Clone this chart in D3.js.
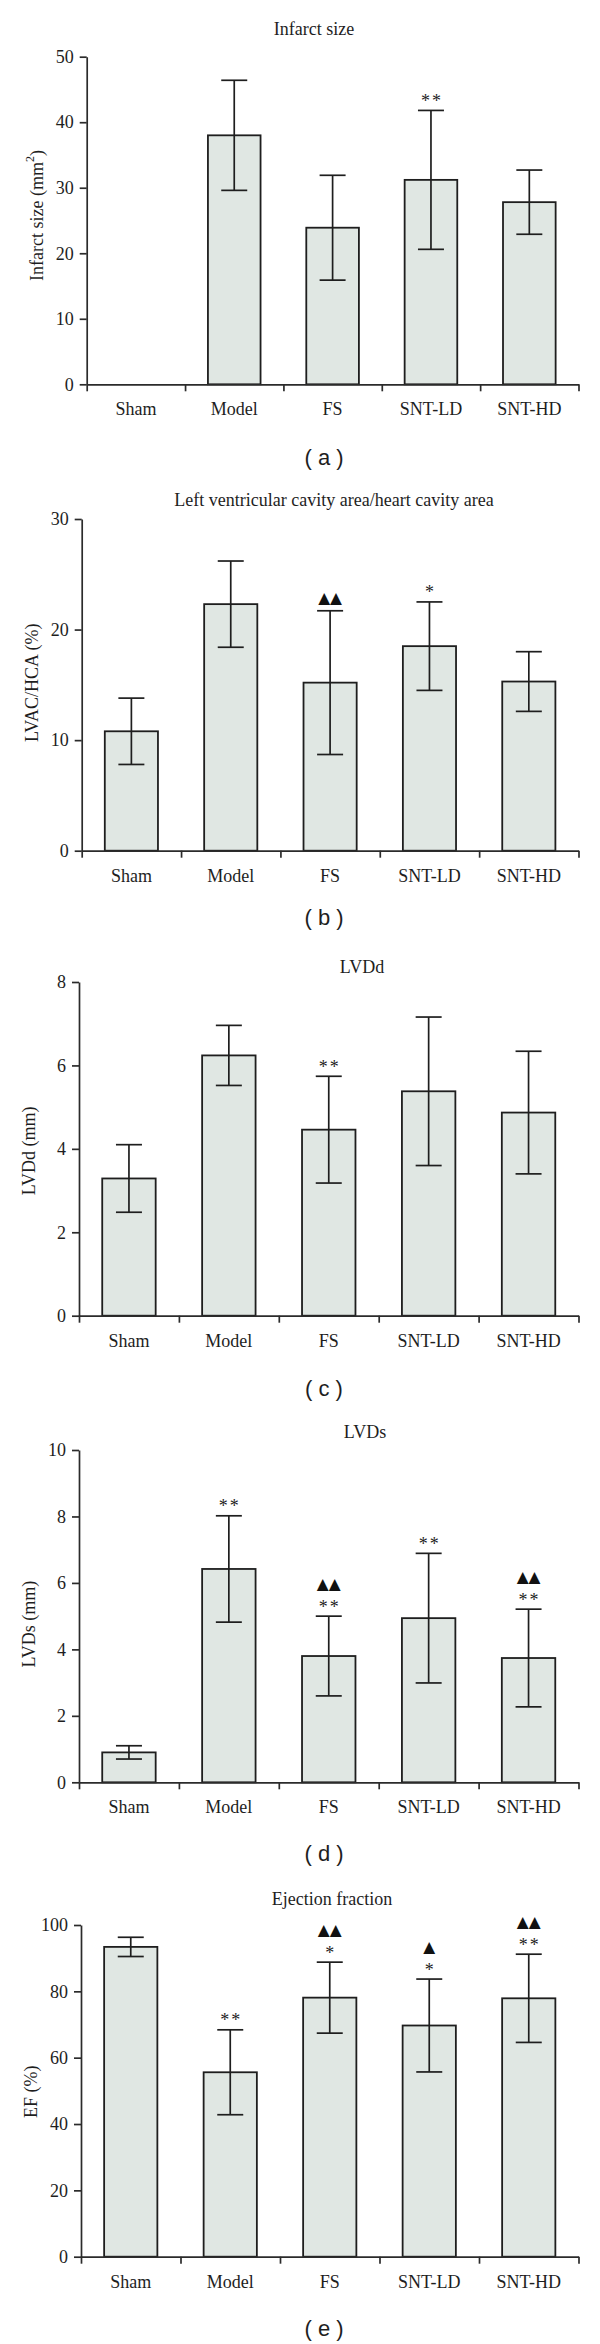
<!DOCTYPE html>
<html>
<head>
<meta charset="utf-8">
<script src="https://cdn.jsdelivr.net/npm/d3@7"></script>
<style>
  html, body { margin: 0; padding: 0; background: #fff; }
  svg { display: block; }
</style>
</head>
<body>
<script>
// ---------------- data ----------------
const categories = ["Sham", "Model", "FS", "SNT-LD", "SNT-HD"];

const panelTitles = ["Infarct size", "Left ventricular cavity area/heart cavity area", "LVDd", "LVDs", "Ejection fraction"];
const panelLetters = ["a", "b", "c", "d", "e"];
const yLabels = ["Infarct size (mm|2|)", "LVAC/HCA (%)", "LVDd (mm)", "LVDs (mm)", "EF (%)"];

const infarctTicks = [0, 10, 20, 30, 40, 50];
const lvacTicks = [0, 10, 20, 30];
const lvddTicks = [0, 2, 4, 6, 8];
const lvdsTicks = [0, 2, 4, 6, 8, 10];
const efTicks = [0, 20, 40, 60, 80, 100];

const infarctMean = [null, 38.0, 23.9, 31.2, 27.8];
const infarctSD   = [null, 8.4, 8.0, 10.6, 4.9];
const lvacMean = [10.8, 22.3, 15.2, 18.5, 15.3];
const lvacSD   = [3.0, 3.9, 6.5, 4.0, 2.7];
const lvddMean = [3.29, 6.24, 4.46, 5.38, 4.87];
const lvddSD   = [0.81, 0.72, 1.28, 1.78, 1.47];
const lvdsMean = [0.90, 6.42, 3.80, 4.94, 3.74];
const lvdsSD   = [0.20, 1.60, 1.20, 1.95, 1.47];
const efMean = [93.4, 55.6, 78.1, 69.7, 77.9];
const efSD   = [2.9, 12.8, 10.7, 14.0, 13.3];

const infarctStars = ["", "", "", "**", ""];
const infarctTris  = ["", "", "", "", ""];
const lvacStars = ["", "", "", "*", ""];
const lvacTris  = ["", "", "\u25B2\u25B2", "", ""];
const lvddStars = ["", "", "**", "", ""];
const lvddTris  = ["", "", "", "", ""];
const lvdsStars = ["", "**", "**", "**", "**"];
const lvdsTris  = ["", "", "\u25B2\u25B2", "", "\u25B2\u25B2"];
const efStars = ["", "**", "*", "*", "**"];
const efTris  = ["", "", "\u25B2\u25B2", "\u25B2", "\u25B2\u25B2"];

// ---------------- layout (positions only) ----------------
const RIGHT = 578.5;
const layout = [
  { left: 86.7, top: 56.7,  bottom: 384.3,  titleX: 314, titleY: 35,   letterY: 457,  labDy: -5 },
  { left: 81.7, top: 519,   bottom: 850.7,  titleX: 334, titleY: 506,  letterY: 917,  labDy: -2 },
  { left: 79,   top: 982,   bottom: 1315.7, titleX: 362, titleY: 973,  letterY: 1388, labDy: 2 },
  { left: 79,   top: 1450,  bottom: 1782.3, titleX: 365, titleY: 1438, letterY: 1853, labDy: 8 },
  { left: 81,   top: 1925,  bottom: 2256.7, titleX: 332, titleY: 1905, letterY: 2328, labDy: 1 }
];

const panels = [
  { ticks: infarctTicks, mean: infarctMean, sd: infarctSD, stars: infarctStars, tris: infarctTris },
  { ticks: lvacTicks, mean: lvacMean, sd: lvacSD, stars: lvacStars, tris: lvacTris },
  { ticks: lvddTicks, mean: lvddMean, sd: lvddSD, stars: lvddStars, tris: lvddTris },
  { ticks: lvdsTicks, mean: lvdsMean, sd: lvdsSD, stars: lvdsStars, tris: lvdsTris },
  { ticks: efTicks, mean: efMean, sd: efSD, stars: efStars, tris: efTris }
];

// ---------------- styles ----------------
const SERIF = "'Liberation Serif', 'Times New Roman', serif";
const SANS = "'Liberation Sans', Arial, sans-serif";
const INK = "#1e1e1e";
const AXIS = "#2b2b2b";
const FILL = "#e0e7e3";

const svg = d3.select("body").append("svg")
  .attr("width", 600).attr("height", 2344)
  .attr("viewBox", "0 0 600 2344");

panels.forEach((p, pi) => {
  const L = layout[pi];
  const g = svg.append("g");

  const x = d3.scaleBand().domain(categories).range([L.left, RIGHT]).paddingInner(0).paddingOuter(0);
  const xb = d3.scaleLinear().domain([0, categories.length]).range([L.left, RIGHT]);
  const y = d3.scaleLinear().domain([0, d3.max(p.ticks)]).range([L.bottom, L.top]);

  const rows = categories.map((c, i) => ({
    c, m: p.mean[i], s: p.sd[i], star: p.stars[i], tri: p.tris[i]
  })).filter(d => d.m != null);

  const bw = x.bandwidth() * 0.535;
  const capW = 26;
  const cx = d => x(d.c) + x.bandwidth() / 2;

  // bars
  g.selectAll("rect.bar").data(rows).join("rect")
    .attr("class", "bar")
    .attr("x", d => cx(d) - bw / 2)
    .attr("y", d => y(d.m))
    .attr("width", bw)
    .attr("height", d => y(0) - y(d.m))
    .attr("fill", FILL)
    .attr("stroke", INK)
    .attr("stroke-width", 1.8);

  // error bars
  const eb = g.selectAll("g.err").data(rows).join("g").attr("class", "err")
    .attr("stroke", INK).attr("stroke-width", 1.7).attr("fill", "none");
  eb.append("line")
    .attr("x1", cx).attr("x2", cx)
    .attr("y1", d => y(d.m + d.s)).attr("y2", d => y(d.m - d.s));
  eb.append("line")
    .attr("x1", d => cx(d) - capW / 2).attr("x2", d => cx(d) + capW / 2)
    .attr("y1", d => y(d.m + d.s)).attr("y2", d => y(d.m + d.s));
  eb.append("line")
    .attr("x1", d => cx(d) - capW / 2).attr("x2", d => cx(d) + capW / 2)
    .attr("y1", d => y(d.m - d.s)).attr("y2", d => y(d.m - d.s));

  // annotations
  rows.forEach(d => {
    const top = y(d.m + d.s);
    let starC = top - 13;
    if (d.star) {
      g.append("text")
        .attr("x", cx(d) + 1)
        .attr("y", starC + 9.5)
        .attr("text-anchor", "middle")
        .attr("font-family", SERIF)
        .attr("font-size", 18)
        .attr("letter-spacing", "2px")
        .attr("fill", INK)
        .text(d.star);
    }
    if (d.tri) {
      const triC = d.star ? starC - 20 : top - 13;
      g.append("text")
        .attr("x", cx(d))
        .attr("y", triC + 5.5)
        .attr("text-anchor", "middle")
        .attr("font-family", "'DejaVu Sans', sans-serif")
        .attr("font-size", 15.5)
        .attr("fill", "#111")
        .text(d.tri);
    }
  });

  // y axis
  const ya = g.append("g")
    .attr("transform", `translate(${L.left},0)`)
    .call(d3.axisLeft(y).tickValues(p.ticks).tickSize(7).tickSizeOuter(0).tickPadding(6).tickFormat(d3.format("d")));
  ya.attr("font-family", SERIF).attr("font-size", 18);
  ya.selectAll("path, line").attr("stroke", AXIS).attr("stroke-width", 1.7);
  ya.selectAll("text").attr("fill", INK);

  // x axis boundary ticks
  const xa = g.append("g")
    .attr("transform", `translate(0,${L.bottom})`)
    .call(d3.axisBottom(xb).tickValues(d3.range(categories.length + 1)).tickSize(7).tickSizeOuter(0).tickFormat(""));
  xa.selectAll("path, line").attr("stroke", AXIS).attr("stroke-width", 1.7);

  // x category labels
  const xl = g.append("g")
    .attr("transform", `translate(0,${L.bottom})`)
    .call(d3.axisBottom(x).tickSize(0).tickPadding(18.2));
  xl.select(".domain").remove();
  xl.attr("font-family", SERIF).attr("font-size", 18);
  xl.selectAll("text").attr("fill", INK);

  // panel title
  g.append("text")
    .attr("x", L.titleX).attr("y", L.titleY)
    .attr("text-anchor", "middle")
    .attr("font-family", SERIF).attr("font-size", 18)
    .attr("fill", INK)
    .text(panelTitles[pi]);

  // y-axis label (with optional superscript marked by |...|)
  const labX = L.left - 50;
  const labY = (L.top + L.bottom) / 2 + L.labDy;
  const yl = g.append("text")
    .attr("transform", `translate(${labX},${labY}) rotate(-90)`)
    .attr("text-anchor", "middle")
    .attr("dominant-baseline", "central")
    .attr("font-family", SERIF).attr("font-size", 18)
    .attr("fill", INK);
  const parts = yLabels[pi].split("|");
  if (parts.length === 3) {
    yl.append("tspan").text(parts[0]);
    yl.append("tspan").attr("font-size", 12).attr("dy", -7).text(parts[1]);
    yl.append("tspan").attr("dy", 7).text(parts[2]);
  } else {
    yl.text(parts[0]);
  }

  // panel letter
  g.append("text")
    .attr("x", 324).attr("y", L.letterY)
    .attr("text-anchor", "middle")
    .attr("dominant-baseline", "central")
    .attr("font-family", SANS).attr("font-size", 22)
    .attr("fill", INK)
    .text(`( ${panelLetters[pi]} )`);
});
</script>
</body>
</html>
